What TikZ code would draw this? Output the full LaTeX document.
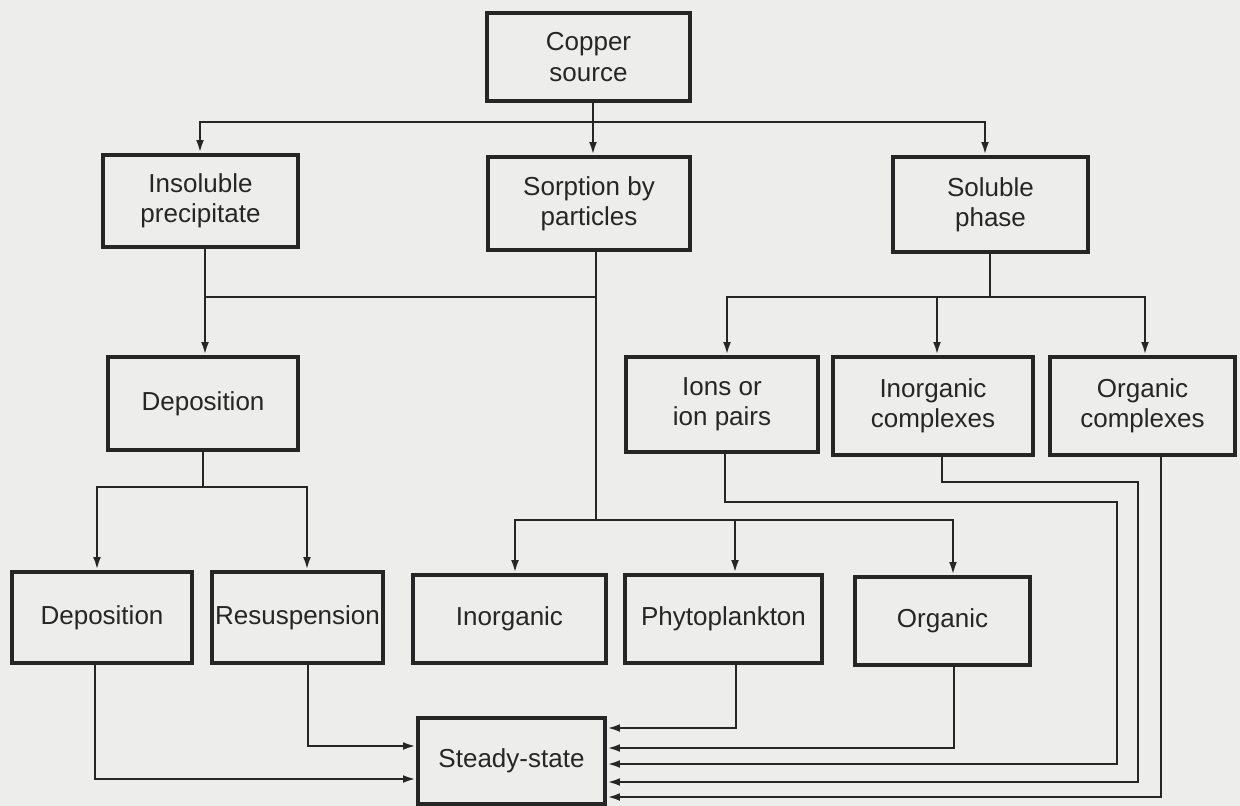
\documentclass[tikz,border=0pt]{standalone}
\usepackage{fontspec}
\setmainfont{Liberation Sans}
\usetikzlibrary{arrows.meta}
\definecolor{bg}{RGB}{237,237,235}
\definecolor{ink}{RGB}{38,38,38}
\begin{document}
\begin{tikzpicture}[x=0.025cm,y=-0.025cm,
  box/.style={draw=ink, line width=2.2pt, inner sep=0pt, align=center, text=ink,
    font=\fontsize{18.5}{21.5}\selectfont},
  ln/.style={draw=ink, line width=2pt},
  arr/.style={ln, -{Latex[length=9.5pt,width=5.5pt]}}]
\fill[bg] (0,0) rectangle (1240,806);
\useasboundingbox (0,0) rectangle (1240,806);

% boxes
\node[box, minimum width=5.075cm, minimum height=2.2cm]  (cs)   at (588.5,57)   {Copper\\source};
\node[box, minimum width=4.875cm, minimum height=2.3cm]  (ip)   at (200.5,201)  {Insoluble\\precipitate};
\node[box, minimum width=5.05cm,  minimum height=2.325cm](sp)   at (589,203.5)  {Sorption by\\particles};
\node[box, minimum width=4.875cm, minimum height=2.375cm](sol)  at (990.5,204.5){Soluble\\phase};
\node[box, minimum width=4.75cm,  minimum height=2.325cm](dep1) at (203,403.5)  {Deposition};
\node[box, minimum width=4.8cm,   minimum height=2.375cm](ion)  at (722,404.5)  {Ions or\\ion pairs};
\node[box, minimum width=5.0cm,   minimum height=2.45cm] (inc)  at (933,406)    {Inorganic\\complexes};
\node[box, minimum width=4.625cm, minimum height=2.45cm] (orc)  at (1142.5,406) {Organic\\complexes};
\node[box, minimum width=4.5cm,   minimum height=2.275cm](dep2) at (102,617.5)  {Deposition};
\node[box, minimum width=4.275cm, minimum height=2.275cm](res)  at (297.5,617.5){Resuspension};
\node[box, minimum width=4.825cm, minimum height=2.2cm]  (ino)  at (509.5,619)  {Inorganic};
\node[box, minimum width=4.925cm, minimum height=2.2cm]  (phy)  at (723.5,619)  {Phytoplankton};
\node[box, minimum width=4.375cm, minimum height=2.2cm]  (org)  at (942.5,621)  {Organic};
\node[box, minimum width=4.675cm, minimum height=2.15cm] (ss)   at (511.5,761)  {Steady-state};

% junction coordinates
\coordinate (t0) at (593,122);
\coordinate (tL) at (200,122);
\coordinate (tR) at (985,122);
\coordinate (p0) at (205,297);
\coordinate (s0) at (596,297);
\coordinate (s1) at (596,520);
\coordinate (b1) at (515,520);
\coordinate (b2) at (735,520);
\coordinate (b3) at (953,520);
\coordinate (c0) at (990,297);
\coordinate (c1) at (727,297);
\coordinate (c2) at (937,297);
\coordinate (c3) at (1145,297);
\coordinate (d0) at (203,487);
\coordinate (d1) at (97,487);
\coordinate (d2) at (307,487);
\coordinate (r1) at (95,779);
\coordinate (r2) at (308,746);
\coordinate (r3) at (736,728);
\coordinate (r4) at (954,748);
\coordinate (q1) at (725,502);
\coordinate (q2) at (1117,764);
\coordinate (q3) at (942,482);
\coordinate (q4) at (1138,782);
\coordinate (q5) at (1161,797);

% copper source to first level
\draw[arr] (cs.south -| t0) -- (t0) -| (ip.north -| tL);
\draw[arr] (cs.south -| t0) -- (sp.north -| t0);
\draw[arr] (cs.south -| t0) -- (t0) -| (sol.north -| tR);

% insoluble and sorption
\draw[arr] (ip.south -| p0) -- (dep1.north -| p0);
\draw[ln] (sp.south -| s0) -- (s0) -- (p0);
\draw[arr] (sp.south -| s0) -- (s1) -| (ino.north -| b1);
\draw[arr] (sp.south -| s0) -- (s1) -| (phy.north -| b2);
\draw[arr] (sp.south -| s0) -- (s1) -| (org.north -| b3);

% soluble phase
\draw[arr] (sol.south -| c0) -- (c0) -| (ion.north -| c1);
\draw[arr] (sol.south -| c0) -- (c0) -| (inc.north -| c2);
\draw[arr] (sol.south -| c0) -- (c0) -| (orc.north -| c3);

% deposition split
\draw[arr] (dep1.south -| d0) -- (d0) -| (dep2.north -| d1);
\draw[arr] (dep1.south -| d0) -- (d0) -| (res.north -| d2);

% into steady-state
\draw[arr] (dep2.south -| r1) -- (r1) -- (r1 -| ss.west);
\draw[arr] (res.south -| r2) -- (r2) -- (r2 -| ss.west);
\draw[arr] (phy.south -| r3) -- (r3) -- (r3 -| ss.east);
\draw[arr] (org.south -| r4) -- (r4) -- (r4 -| ss.east);
\draw[arr] (ion.south -| q1) -- (q1) -| (q2) -- (q2 -| ss.east);
\draw[arr] (inc.south -| q3) -- (q3) -| (q4) -- (q4 -| ss.east);
\draw[arr] (orc.south -| q5) -- (q5) -- (q5 -| ss.east);
\end{tikzpicture}
\end{document}
